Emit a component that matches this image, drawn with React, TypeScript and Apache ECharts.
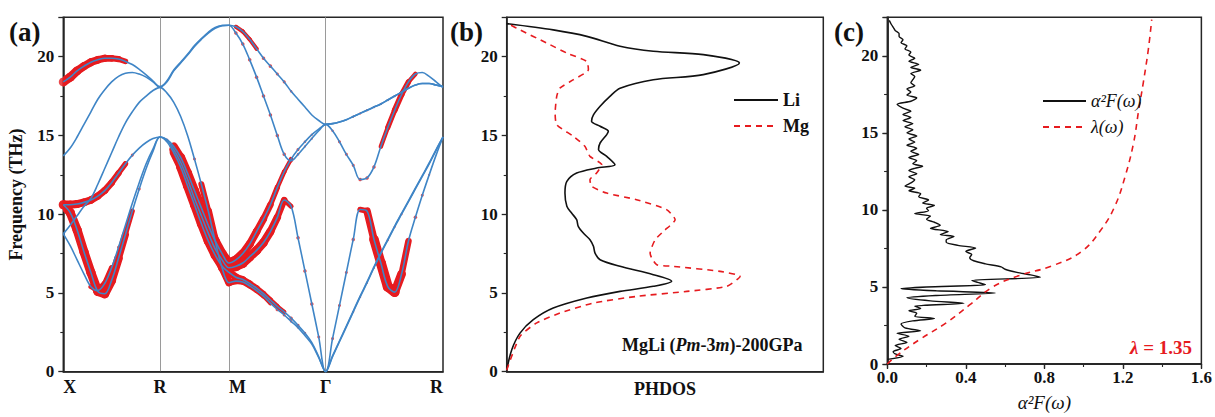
import React, { useEffect, useRef } from "react";
import * as echarts from "echarts";

const FONT = '"Liberation Serif", "Times New Roman", serif';
const AX = "#262626";
const BLUE = "#3f85c6";
const RED = "#e61b1f";

// ---- panel (a): k-path samples (index 0..55) ----
const kPathLabels: Record<number, string> = { 0: "X", 14: "R", 24: "M", 38: "Γ", 55: "R" };
const kLines = [14, 24, 38];
const kIndex = Array.from({ length: 56 }, (_, i) => String(i));

// phonon branches (THz): X→R (15) | R→M (10) | M→Γ (14) | Γ→R (17)
const band1 = [
  8.75, 8.0, 7.1, 6.2, 5.4, 5.15, 5.6, 6.6, 7.9, 9.3, 10.7, 12.0, 13.2, 14.15, 14.9,
  14.6, 13.9, 13.0, 11.8, 10.6, 9.4, 8.3, 7.4, 6.7, 6.3,
  6.0, 5.85, 5.6, 5.3, 4.95, 4.55, 4.15, 3.8, 3.4, 2.95, 2.45, 1.85, 0.95, 0,
  0.95, 1.9, 2.85, 3.8, 4.75, 5.65, 6.6, 7.5, 8.35, 9.2, 10.0, 10.8, 11.6, 12.4, 13.2, 14.05, 14.9,
];
const band2 = [
  10.6, 10.1, 9.0, 7.6, 6.3, 5.1, 4.95, 5.8, 7.2, 8.7, 10.2, 11.6, 12.9, 14.0, 14.9,
  14.7, 14.1, 13.3, 12.2, 11.0, 9.9, 8.8, 7.8, 7.1, 6.6,
  6.7, 6.9, 7.3, 7.7, 8.2, 8.9, 9.8, 10.9, 10.5, 8.5, 6.4, 4.3, 2.2, 0,
  1.0, 1.95, 2.9, 3.85, 4.8, 5.7, 6.65, 7.55, 8.4, 9.25, 10.05, 10.85, 11.65, 12.45, 13.25, 14.1, 14.9,
];
const band3 = [
  10.6, 10.6, 10.65, 10.75, 10.9, 11.15, 11.5, 12.0, 12.6, 13.2, 13.75, 14.2, 14.55, 14.8, 14.9,
  14.75, 14.3, 13.6, 12.6, 11.5, 10.4, 9.3, 8.3, 7.5, 6.9,
  7.1, 7.5, 8.1, 8.9, 9.7, 10.6, 11.7, 12.7, 13.5, 14.1, 14.6, 15.05, 15.4, 15.7,
  15.75, 15.85, 16.0, 16.2, 16.4, 16.6, 16.8, 17.0, 17.25, 17.5, 17.75, 18.0, 18.2, 18.3, 18.3, 18.2, 18.1,
];
const band4 = [
  8.75, 9.3, 9.9, 10.5, 11.0, 11.9, 12.9, 13.9, 14.9, 15.8, 16.5, 17.1, 17.5, 17.85, 18.05,
  17.7, 17.1, 16.2, 15.0, 13.5, 11.9, 10.2, 8.3, 6.6, 5.65,
  5.75, 5.7, 5.45, 5.15, 4.8, 4.35, 3.95, 3.6, 3.2, 2.8, 2.3, 1.75, 0.9, 0,
  2.1, 4.2, 6.3, 8.4, 10.3, 10.2, 8.4, 6.9, 5.4, 5.05, 6.2, 8.3, 9.8, 11.2, 12.5, 13.75, 14.9,
];
const band5 = [
  13.7, 14.2, 14.9, 15.7, 16.5, 17.3, 17.9, 18.4, 18.75, 18.95, 19.0, 18.9, 18.7, 18.4, 18.1,
  18.4, 19.1, 19.6, 20.1, 20.65, 21.1, 21.5, 21.8, 21.97, 22.0,
  21.5, 20.8, 19.8, 18.7, 17.5, 16.3, 15.0, 13.8, 13.4, 13.8, 14.3, 14.8, 15.3, 15.7,
  15.3, 14.6, 13.8, 13.1, 12.2, 12.3, 13.0, 14.3, 15.5, 16.6, 17.6, 18.4, 18.9, 19.0, 18.75, 18.4, 18.05,
];
const band6 = [
  18.4, 18.7, 19.1, 19.4, 19.65, 19.8, 19.9, 19.9, 19.85, 19.7, 19.5, 19.2, 18.85, 18.45, 18.05,
  18.45, 19.15, 19.65, 20.15, 20.7, 21.15, 21.55, 21.85, 21.98, 22.0,
  21.9, 21.6, 21.1, 20.5, 19.9, 19.4, 18.9, 18.4, 17.8, 17.3, 16.8, 16.3, 15.95, 15.7,
  15.75, 15.85, 16.0, 16.2, 16.4, 16.6, 16.8, 17.0, 17.25, 17.5, 17.75, 18.0, 18.2, 18.3, 18.3, 18.2, 18.1,
];

// projected weight of each branch (fat-band marker diameter, px)
const weight1 = [
  0, 0, 0, 0, 4, 6, 6, 5, 3, 0, 0, 0, 0, 0, 0,
  0, 7, 9, 9, 9, 9, 9, 9, 9, 8,
  7, 6.5, 6, 6, 5.5, 5, 4.5, 4, 3.5, 3, 2.5, 0, 0, 0,
  0, 0, 0, 2, 2, 2, 2, 2, 2, 2, 2, 0, 0, 0, 0, 0, 0,
];
const weight2 = [
  9, 9, 9, 9, 9, 9, 9, 9, 8, 6, 4, 3, 0, 0, 0,
  3, 8, 10, 10, 10, 10, 10, 10, 10, 10,
  10, 9.5, 9, 9, 8.5, 8, 7, 6, 4, 3.5, 3.5, 3.5, 3, 0,
  0, 0, 0, 0, 0, 0, 0, 0, 0, 0, 0, 0, 0, 0, 0, 0, 0,
];
const weight3 = [
  9, 8, 8, 7.5, 7.5, 7, 7, 6.5, 6, 5, 3, 0, 0, 0, 0,
  0, 7, 9, 9, 9, 9, 9, 9, 9, 9,
  9, 8.5, 8, 7.5, 7, 6, 5, 4.5, 4, 3, 2.5, 2, 0, 0,
  0, 0, 0, 2, 2, 2, 2, 2, 2, 2, 2, 0, 0, 0, 0, 0, 0,
];
const weight4 = [
  0, 0, 0, 0, 0, 0, 0, 0, 0, 0, 0, 0, 0, 0, 0,
  0, 0, 0, 0, 3, 5, 7, 8, 8, 7,
  6, 5.5, 5, 5, 4.5, 4, 3.5, 3, 2.5, 2, 0, 0, 0, 0,
  3, 3, 3, 3.5, 5, 6, 9, 10, 10, 9.5, 8, 5, 3.5, 3, 2, 0, 0,
];
const weight5 = [
  0, 0, 0, 0, 0, 0, 0, 0, 0, 0, 0, 0, 0, 0, 0,
  0, 0, 0, 0, 0, 0, 0, 0, 0, 0,
  3.5, 3.5, 3.5, 3.5, 3.5, 3.5, 3.5, 3.5, 3.5, 2.5, 2, 2, 0, 0,
  2.5, 3, 3, 3, 3.5, 3.5, 3.5, 4, 5, 5.5, 6, 5, 4, 0, 0, 0, 0,
];
const weight6 = [
  9, 9, 8.5, 8, 8, 7.5, 7, 6.5, 6, 5, 0, 0, 0, 0, 0,
  0, 0, 0, 0, 0, 0, 0, 0, 0, 0,
  4, 4, 4, 4, 3.5, 3.5, 3, 3, 2.5, 0, 0, 0, 0, 0,
  0, 0, 0, 0, 0, 0, 0, 0, 0, 0, 0, 0, 0, 0, 0, 0, 0,
];

const bands = [band1, band2, band3, band4, band5, band6];
const weights = [weight1, weight2, weight3, weight4, weight5, weight6];

// ---- panel (b): PHDOS, pairs [frequency, DOS (fraction of panel width)] ----
const liDos: [number, number][] = [
  [0.1, 0], [1.4, 0.016], [2.45, 0.042], [3.3, 0.084], [4.04, 0.147], [4.68, 0.253], [5.1, 0.358],
  [5.42, 0.463], [5.74, 0.521], [6.16, 0.463], [6.69, 0.358], [7.11, 0.295], [7.53, 0.279], [7.96, 0.274],
  [8.38, 0.263], [8.8, 0.242], [9.23, 0.226], [9.65, 0.221], [10.07, 0.205], [10.5, 0.19], [11.34, 0.184],
  [12.08, 0.19], [12.61, 0.221], [12.93, 0.284], [13.14, 0.342], [13.67, 0.316], [14.1, 0.29], [14.52, 0.295],
  [15.05, 0.316], [15.26, 0.321], [15.58, 0.295], [15.9, 0.268], [16.3, 0.274], [16.85, 0.295], [17.48, 0.326],
  [18.0, 0.358], [18.54, 0.463], [18.86, 0.621], [19.6, 0.735], [20.13, 0.621], [20.34, 0.463], [20.66, 0.358],
  [21.29, 0.253], [21.7, 0.147], [22.1, 0],
];
const mgDos: [number, number][] = [
  [0.1, 0], [2.24, 0.042], [3.1, 0.095], [3.72, 0.168], [4.36, 0.274], [4.78, 0.41], [5.1, 0.569],
  [5.42, 0.695], [6.05, 0.737], [6.37, 0.674], [6.69, 0.526], [6.79, 0.474], [7.22, 0.458], [7.53, 0.453],
  [8.38, 0.469], [8.91, 0.495], [9.65, 0.532], [10.29, 0.505], [10.92, 0.41], [11.34, 0.316], [11.77, 0.268],
  [12.19, 0.263], [12.61, 0.284], [13.14, 0.3], [13.67, 0.263], [14.31, 0.247], [14.94, 0.211], [15.68, 0.158],
  [16.42, 0.153], [17.48, 0.158], [18.0, 0.168], [18.54, 0.211], [19.17, 0.258], [19.7, 0.253], [20.23, 0.19],
  [20.87, 0.126], [21.7, 0.042], [22.03, 0.01],
];

// ---- panel (c): Eliashberg function and lambda, pairs [frequency, value] ----
const a2F: [number, number][] = [
  [0.3, 0.0], [0.5, 0.08], [0.65, 0.04], [0.8, 0.03], [1.0, 0.07], [1.2, 0.04], [1.4, 0.1], [1.6, 0.06],
  [1.8, 0.11], [2.0, 0.05], [2.15, 0.17], [2.35, 0.09], [2.6, 0.07], [2.8, 0.13], [2.95, 0.24], [3.1, 0.14],
  [3.3, 0.15], [3.45, 0.11], [3.6, 0.17], [3.75, 0.14], [3.94, 0.39], [4.1, 0.22], [4.3, 0.1], [4.45, 0.25],
  [4.61, 0.55], [4.75, 0.25], [4.89, 0.07], [5.0, 0.2], [5.15, 0.5], [5.3, 0.46], [5.42, 0.43], [5.63, 0.78],
  [5.78, 0.73], [5.95, 0.66], [6.15, 0.6], [6.3, 0.58], [6.5, 0.5], [6.7, 0.44], [6.9, 0.42], [7.1, 0.43],
  [7.3, 0.4], [7.53, 0.45], [7.7, 0.36], [7.9, 0.3], [8.05, 0.3], [8.27, 0.34], [8.4, 0.27], [8.6, 0.31],
  [8.8, 0.22], [9.0, 0.27], [9.2, 0.24], [9.4, 0.2], [9.6, 0.22], [9.76, 0.14], [9.95, 0.21], [10.1, 0.2],
  [10.29, 0.24], [10.45, 0.18], [10.65, 0.21], [10.85, 0.16], [11.05, 0.17], [11.25, 0.11], [11.4, 0.14],
  [11.55, 0.09], [11.75, 0.12], [11.95, 0.14], [12.15, 0.11], [12.35, 0.15], [12.55, 0.11], [12.7, 0.14],
  [12.83, 0.18], [13.0, 0.13], [13.2, 0.15], [13.4, 0.11], [13.6, 0.16], [13.8, 0.12], [14.0, 0.15],
  [14.2, 0.1], [14.4, 0.14], [14.6, 0.11], [14.8, 0.15], [15.0, 0.1], [15.2, 0.13], [15.4, 0.09],
  [15.6, 0.13], [15.8, 0.08], [16.0, 0.12], [16.2, 0.08], [16.4, 0.12], [16.6, 0.08], [16.85, 0.05],
  [17.05, 0.12], [17.27, 0.15], [17.45, 0.1], [17.65, 0.12], [17.85, 0.1], [18.05, 0.14], [18.25, 0.12],
  [18.45, 0.13], [18.65, 0.14], [18.85, 0.12], [19.07, 0.17], [19.25, 0.12], [19.45, 0.16], [19.65, 0.11],
  [19.85, 0.14], [20.05, 0.11], [20.25, 0.12], [20.45, 0.09], [20.65, 0.1], [20.85, 0.07], [21.05, 0.08],
  [21.25, 0.06], [21.45, 0.06], [21.65, 0.04], [21.85, 0.03], [22.05, 0.02], [22.3, 0.01],
];
const lambda: [number, number][] = [
  [0, 0], [0.55, 0.048], [1.6, 0.166], [2.67, 0.3], [3.83, 0.419], [5.0, 0.537], [5.74, 0.672],
  [6.37, 0.84], [7.32, 0.992], [8.8, 1.094], [10.29, 1.161], [12.19, 1.212], [14.31, 1.254],
  [16.42, 1.28], [18.33, 1.305], [20.44, 1.33], [22.35, 1.347],
];

const yTicks = [0, 5, 10, 15, 20];

function yAxisFor(gridIndex: number, extra: any = {}) {
  return {
    type: "value",
    gridIndex,
    min: 0,
    max: 22.5,
    interval: 5,
    axisLine: { show: true, lineStyle: { color: AX, width: 1.5 } },
    axisTick: { show: true, length: 5, lineStyle: { color: AX, width: 1.3 } },
    minorTick: { show: true, splitNumber: 2, length: 3, lineStyle: { color: AX, width: 1.1 } },
    splitLine: { show: false },
    axisLabel: {
      fontFamily: FONT,
      fontWeight: "bold",
      fontSize: 17,
      color: "#111",
      margin: 9,
      formatter: (v: number) => (yTicks.includes(v) ? String(v) : ""),
    },
    ...extra,
  };
}

function buildOption(): any {
  const bandSeries = bands.map((b) => ({
    type: "line",
    xAxisIndex: 0,
    yAxisIndex: 0,
    data: b,
    smooth: 0.35,
    symbol: "none",
    silent: true,
    z: 4,
    lineStyle: { color: BLUE, width: 1.6 },
  }));
  const fatDots: number[][] = [];
  const fatTubes: number[][] = [];
  bands.forEach((b, bi) => {
    const w = weights[bi];
    b.forEach((f, i) => {
      if (w[i] > 0) fatDots.push([i, f, w[i]]);
      if (i < b.length - 1 && w[i] >= 4 && w[i + 1] >= 4) {
        fatTubes.push([i, f, i + 1, b[i + 1], (w[i] + w[i + 1]) / 2]);
      }
    });
  });
  const dotSeries = {
    type: "scatter",
    xAxisIndex: 0,
    yAxisIndex: 0,
    data: fatDots,
    symbol: "circle",
    symbolSize: (v: number[]) => v[2],
    silent: true,
    z: 3,
    itemStyle: { color: RED },
  };
  const tubeSeries = {
    type: "custom",
    xAxisIndex: 0,
    yAxisIndex: 0,
    data: fatTubes,
    dimensions: ["k", "f", "k2", "f2", "w"],
    encode: { x: 0, y: 1 },
    silent: true,
    z: 3,
    clip: true,
    renderItem: (_params: any, api: any) => {
      const p1 = api.coord([api.value(0), api.value(1)]);
      const p2 = api.coord([api.value(2), api.value(3)]);
      return {
        type: "line",
        shape: { x1: p1[0], y1: p1[1], x2: p2[0], y2: p2[1] },
        style: { stroke: RED, lineWidth: api.value(4), lineCap: "round" },
      };
    },
  };

  const labelStyle = { fontFamily: FONT, fontWeight: "bold", fontSize: 18, color: "#111" };

  return {
    animation: false,
    backgroundColor: "#fff",
    grid: [
      { left: 63.3, top: 17.3, width: 379.7, height: 354.4, show: true, borderColor: AX, borderWidth: 1.5 },
      { left: 506.7, top: 17.3, width: 316.6, height: 354.4, show: true, borderColor: AX, borderWidth: 1.5 },
      { left: 887.3, top: 17.3, width: 316, height: 354.4, show: true, borderColor: AX, borderWidth: 1.5 },
    ],
    xAxis: [
      {
        type: "category",
        gridIndex: 0,
        data: kIndex,
        boundaryGap: false,
        axisLine: { show: true, lineStyle: { color: AX, width: 1.5 } },
        axisTick: { show: false },
        splitLine: {
          show: true,
          interval: (i: number) => kLines.includes(i),
          lineStyle: { color: "#9a9a9a", width: 1 },
        },
        axisLabel: {
          ...labelStyle,
          margin: 6,
          interval: (i: number) => kPathLabels[i] !== undefined,
          formatter: (v: string) => {
            const s = kPathLabels[Number(v)] || "";
            return s === "M" ? "{m|M}" : s;
          },
          alignMinLabel: "left",
          alignMaxLabel: "right",
          rich: { m: { ...labelStyle, padding: [0, 0, 0, 17] } },
        },
      },
      {
        type: "value",
        gridIndex: 1,
        min: 0,
        max: 1,
        axisLine: { show: true, lineStyle: { color: AX, width: 1.5 } },
        axisTick: { show: false },
        axisLabel: { show: false },
        splitLine: { show: false },
        name: "PHDOS",
        nameLocation: "middle",
        nameGap: 8,
        nameTextStyle: { ...labelStyle, fontSize: 18 },
      },
      {
        type: "value",
        gridIndex: 2,
        min: 0,
        max: 1.6,
        interval: 0.4,
        axisLine: { show: true, lineStyle: { color: AX, width: 1.5 } },
        axisTick: { show: true, length: 5, lineStyle: { color: AX, width: 1.3 } },
        minorTick: { show: true, splitNumber: 2, length: 3, lineStyle: { color: AX, width: 1.1 } },
        splitLine: { show: false },
        axisLabel: {
          fontFamily: FONT,
          fontWeight: "bold",
          fontSize: 17,
          color: "#111",
          margin: 5,
          formatter: (v: number) => v.toFixed(1),
        },
        name: "α²F(ω)",
        nameLocation: "middle",
        nameGap: 29,
        nameTextStyle: { fontFamily: FONT, fontStyle: "italic", fontSize: 19, color: "#111" },
      },
      {
        type: "value",
        gridIndex: 2,
        position: "top",
        min: 0,
        max: 1.6,
        interval: 0.4,
        axisLine: { show: true, lineStyle: { color: AX, width: 1.5 } },
        axisTick: { show: true, inside: true, length: 4, lineStyle: { color: AX, width: 1.2 } },
        minorTick: { show: true, splitNumber: 2, length: 3, lineStyle: { color: AX, width: 1 } },
        axisLabel: { show: false },
        splitLine: { show: false },
      },
    ],
    yAxis: [
      yAxisFor(0, {
        name: "Frequency (THz)",
        nameLocation: "middle",
        nameGap: 38,
        nameTextStyle: { ...labelStyle, fontSize: 18 },
      }),
      yAxisFor(1),
      yAxisFor(2),
      {
        type: "value",
        gridIndex: 2,
        position: "right",
        min: 0,
        max: 22.5,
        interval: 5,
        axisLine: { show: true, lineStyle: { color: AX, width: 1.5 } },
        axisTick: { show: true, inside: true, length: 4, lineStyle: { color: AX, width: 1.2 } },
        minorTick: { show: true, splitNumber: 2, length: 3, lineStyle: { color: AX, width: 1 } },
        axisLabel: { show: false },
        splitLine: { show: false },
      },
    ],
    legend: [
      {
        data: ["Li", "Mg"],
        orient: "vertical",
        left: 728,
        top: 86,
        itemWidth: 44,
        itemHeight: 14,
        itemGap: 8,
        itemStyle: { opacity: 0 },
        textStyle: { ...labelStyle, fontSize: 18 },
        selectedMode: false,
      },
      {
        data: ["α²F(ω)", "λ(ω)"],
        orient: "vertical",
        left: 1037,
        top: 87,
        itemWidth: 43,
        itemHeight: 14,
        itemGap: 8,
        itemStyle: { opacity: 0 },
        textStyle: { fontFamily: FONT, fontStyle: "italic", fontSize: 18, color: "#111" },
        selectedMode: false,
      },
    ],
    graphic: [
      { type: "text", left: 9, top: 18, style: { text: "(a)", font: `bold 27px ${FONT}`, fill: "#111" } },
      { type: "text", left: 450, top: 18, style: { text: "(b)", font: `bold 27px ${FONT}`, fill: "#111" } },
      { type: "text", left: 834, top: 18, style: { text: "(c)", font: `bold 27px ${FONT}`, fill: "#111" } },
      {
        type: "text",
        x: 622,
        y: 345,
        style: {
          text: "{n|MgLi (}{i|Pm}{n|-3}{i|m}{n|)-200GPa}",
          verticalAlign: "middle",
          rich: {
            n: { fontFamily: FONT, fontWeight: "bold", fontSize: 18, fill: "#111" },
            i: { fontFamily: FONT, fontWeight: "bold", fontStyle: "italic", fontSize: 18, fill: "#111" },
          },
        },
      },
      {
        type: "text",
        x: 1130,
        y: 347,
        style: {
          text: "{i|λ}{n| = 1.35}",
          verticalAlign: "middle",
          rich: {
            n: { fontFamily: FONT, fontWeight: "bold", fontSize: 19, fill: RED },
            i: { fontFamily: FONT, fontWeight: "bold", fontStyle: "italic", fontSize: 19, fill: RED },
          },
        },
      },
    ],
    series: [
      tubeSeries,
      dotSeries,
      ...bandSeries,
      {
        name: "Li",
        type: "line",
        xAxisIndex: 1,
        yAxisIndex: 1,
        data: liDos.map(([f, x]) => [x, f]),
        smooth: 0.3,
        symbol: "none",
        itemStyle: { color: "#111" },
        lineStyle: { color: "#111", width: 1.6 },
      },
      {
        name: "Mg",
        type: "line",
        xAxisIndex: 1,
        yAxisIndex: 1,
        data: mgDos.map(([f, x]) => [x, f]),
        smooth: 0.2,
        symbol: "none",
        itemStyle: { color: RED },
        lineStyle: { color: RED, width: 1.6, type: [6, 5] },
      },
      {
        name: "α²F(ω)",
        type: "line",
        xAxisIndex: 2,
        yAxisIndex: 2,
        data: a2F.map(([f, x]) => [x, f]),
        smooth: 0.25,
        symbol: "none",
        itemStyle: { color: "#111" },
        lineStyle: { color: "#111", width: 1.4 },
      },
      {
        name: "λ(ω)",
        type: "line",
        xAxisIndex: 2,
        yAxisIndex: 2,
        data: lambda.map(([f, x]) => [x, f]),
        smooth: 0.4,
        symbol: "none",
        itemStyle: { color: RED },
        lineStyle: { color: RED, width: 1.6, type: [6, 5] },
      },
    ],
  };
}

export default function App() {
  const ref = useRef<HTMLDivElement>(null);
  useEffect(() => {
    if (!ref.current) return;
    const chart = echarts.init(ref.current, null, { renderer: "svg" });
    chart.setOption(buildOption());
    return () => chart.dispose();
  }, []);
  return (
    <div
      ref={ref}
      style={{ position: "fixed", left: 0, top: 0, width: 1215, height: 417, background: "#fff" }}
    />
  );
}
